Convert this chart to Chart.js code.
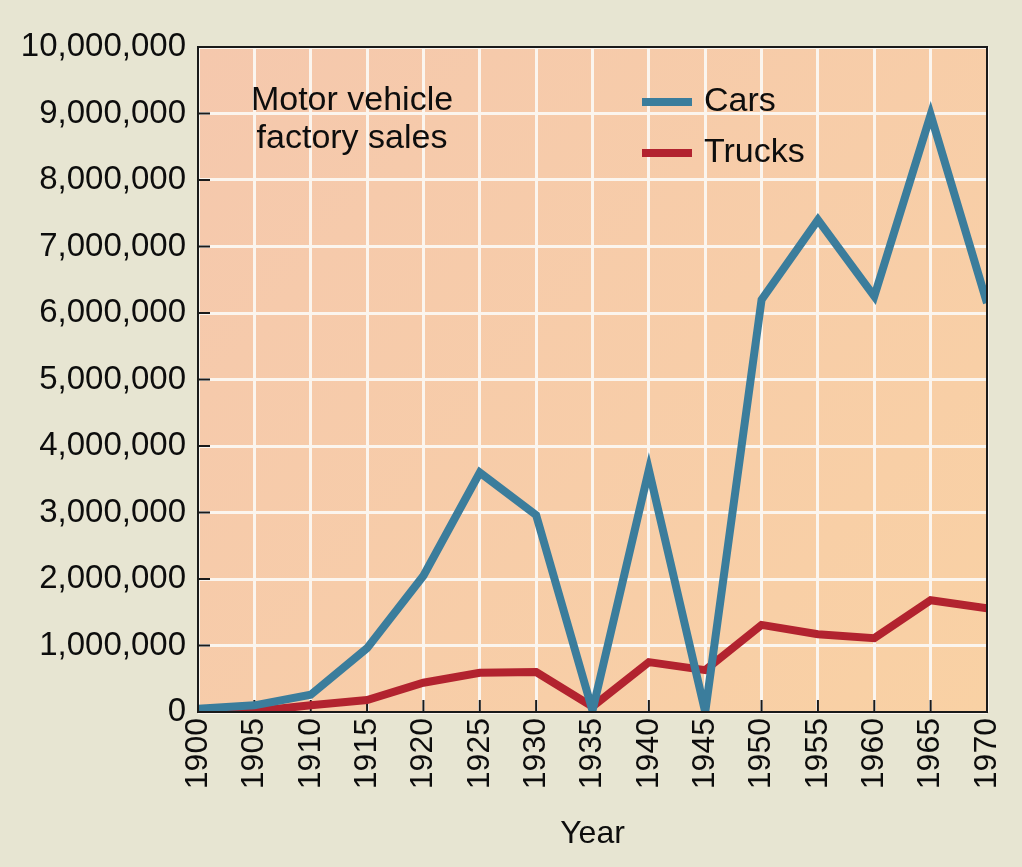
<!DOCTYPE html>
<html>
<head>
<meta charset="utf-8">
<script src="https://cdn.jsdelivr.net/npm/chart.js@4"></script>
<style>
  html, body { margin: 0; padding: 0; background: #e7e5d2; }
  #wrap { width: 1022px; height: 867px; }
</style>
</head>
<body>
<div id="wrap"><canvas id="chart"></canvas></div>
<script>
// data
const years = [1900, 1905, 1910, 1915, 1920, 1925, 1930, 1935, 1940, 1945, 1950, 1955, 1960, 1965, 1970];
const cars = [50000, 100000, 260000, 960000, 2050000, 3600000, 2960000, 20000, 3640000, 0, 6200000, 7400000, 6250000, 8980000, 6150000];
const trucks = [0, 10000, 100000, 180000, 440000, 590000, 600000, 80000, 750000, 630000, 1310000, 1170000, 1110000, 1680000, 1560000];
const noteLines = ["Motor vehicle", "factory sales"];

const FONT = "'Liberation Sans', Arial, Helvetica, sans-serif";

// page + plot background, inward ticks, frame, note text, legend
const decor = {
  id: "decor",
  beforeDraw(chart) {
    const { ctx, chartArea: a } = chart;
    ctx.save();
    ctx.fillStyle = "#e7e5d2";
    ctx.fillRect(0, 0, chart.width, chart.height);
    const g = ctx.createLinearGradient(a.left, a.top, a.right, a.bottom);
    g.addColorStop(0, "#f5c8ad");
    g.addColorStop(1, "#f9d1a4");
    ctx.fillStyle = g;
    ctx.fillRect(a.left, a.top, a.right - a.left, a.bottom - a.top);
    ctx.restore();
  },
  beforeDatasetsDraw(chart) {
    const { ctx, chartArea: a, scales } = chart;
    ctx.save();
    ctx.strokeStyle = "#1a1a1a";
    ctx.lineWidth = 2;
    ctx.beginPath();
    scales.y.ticks.forEach(t => {
      const y = scales.y.getPixelForValue(t.value);
      ctx.moveTo(a.left, y);
      ctx.lineTo(a.left + 12, y);
    });
    scales.x.ticks.forEach((t, i) => {
      const x = scales.x.getPixelForTick(i);
      ctx.moveTo(x, a.bottom);
      ctx.lineTo(x, a.bottom - 12);
    });
    ctx.stroke();

    ctx.fillStyle = "#0d0d0d";
    ctx.font = "34px " + FONT;
    ctx.textAlign = "center";
    ctx.textBaseline = "middle";
    noteLines.forEach((s, i) => ctx.fillText(s, a.left + 154, a.top + 54 + i * 38));

    ctx.textAlign = "left";
    chart.data.datasets.forEach((ds, i) => {
      const y = a.top + 55 + i * 51;
      ctx.strokeStyle = ds.borderColor;
      ctx.lineWidth = 8;
      ctx.beginPath();
      ctx.moveTo(a.left + 444, y);
      ctx.lineTo(a.left + 494, y);
      ctx.stroke();
      ctx.fillText(ds.label, a.left + 506, y);
    });
    ctx.restore();
  },
  afterDatasetsDraw(chart) {
    const { ctx, chartArea: a } = chart;
    ctx.save();
    ctx.strokeStyle = "#1a1a1a";
    ctx.lineWidth = 2;
    ctx.strokeRect(a.left, a.top, a.right - a.left, a.bottom - a.top);
    ctx.restore();
  }
};

new Chart(document.getElementById("chart"), {
  type: "line",
  data: {
    labels: years,
    datasets: [
      {
        label: "Cars",
        data: cars,
        borderColor: "#3b7d9c",
        borderWidth: 8,
        borderJoinStyle: "miter",
        pointRadius: 0,
        tension: 0,
        clip: 0
      },
      {
        label: "Trucks",
        data: trucks,
        borderColor: "#b2232f",
        borderWidth: 8,
        borderJoinStyle: "miter",
        pointRadius: 0,
        tension: 0,
        clip: 0
      }
    ]
  },
  options: {
    responsive: true,
    maintainAspectRatio: false,
    animation: false,
    layout: { padding: { top: 47, right: 35, left: 0, bottom: 0 } },
    plugins: {
      legend: { display: false },
      tooltip: { enabled: false }
    },
    scales: {
      x: {
        type: "category",
        offset: false,
        grid: { color: "#fbf5ee", lineWidth: 3, drawTicks: false },
        border: { display: false },
        ticks: {
          color: "#0d0d0d",
          font: { family: FONT, size: 32 },
          minRotation: 90,
          maxRotation: 90,
          padding: 6,
          autoSkip: false
        },
        title: {
          display: true,
          text: "Year",
          color: "#0d0d0d",
          font: { family: FONT, size: 32 },
          padding: { top: 14, bottom: 14 }
        },
        afterFit(scale) {
          scale.height = 155;
          scale.paddingLeft = 0;
          scale.paddingRight = 0;
        }
      },
      y: {
        min: 0,
        max: 10000000,
        grid: { color: "#fbf5ee", lineWidth: 3, drawTicks: false },
        border: { display: false },
        ticks: {
          stepSize: 1000000,
          color: "#0d0d0d",
          font: { family: FONT, size: 33 },
          padding: 12,
          callback: v => v.toLocaleString("en-US")
        },
        afterFit(scale) {
          scale.width = 198;
          scale.paddingTop = 0;
          scale.paddingBottom = 0;
        }
      }
    }
  },
  plugins: [decor]
});
</script>
</body>
</html>
